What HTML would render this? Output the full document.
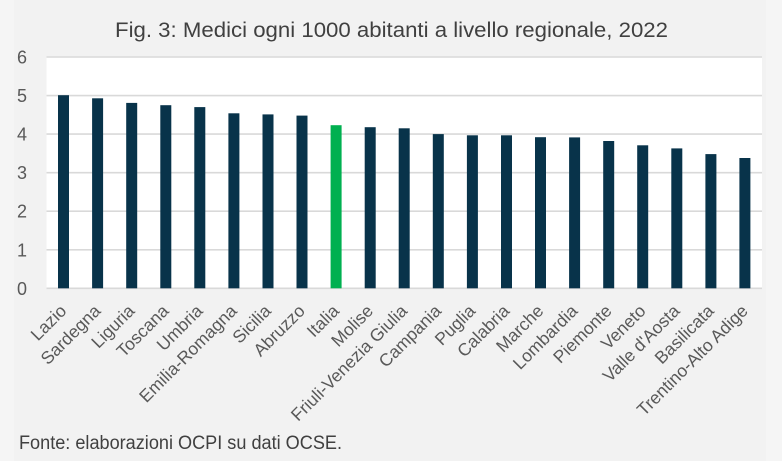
<!DOCTYPE html>
<html>
<head>
<meta charset="utf-8">
<style>
  html, body { margin: 0; padding: 0; }
  body { width: 782px; height: 461px; background: #f2f2f2; overflow: hidden; }
  svg { display: block; }
  text { font-family: "Liberation Sans", Arial, sans-serif; }
</style>
</head>
<body>
<svg width="782" height="461" viewBox="0 0 782 461" xmlns="http://www.w3.org/2000/svg">
  <rect x="0" y="0" width="782" height="461" fill="#f2f2f2"/>
  <rect x="766" y="0" width="16" height="461" fill="#f5f5f5"/>
  <rect x="0" y="0" width="14" height="461" fill="#f5f5f5"/>
  <!-- Title -->
  <text x="115" y="37" font-size="21.5" fill="#404040" textLength="553" lengthAdjust="spacingAndGlyphs">Fig. 3: Medici ogni 1000 abitanti a livello regionale, 2022</text>

  <!-- plot area -->
  <rect x="46.5" y="57" width="715.5" height="231.3" fill="#ffffff"/>

  <!-- gridlines -->
  <g stroke="#d9d9d9" stroke-width="1.6">
    <line x1="46.5" x2="762" y1="57" y2="57"/>
    <line x1="46.5" x2="762" y1="95.6" y2="95.6"/>
    <line x1="46.5" x2="762" y1="134.1" y2="134.1"/>
    <line x1="46.5" x2="762" y1="172.7" y2="172.7"/>
    <line x1="46.5" x2="762" y1="211.2" y2="211.2"/>
    <line x1="46.5" x2="762" y1="249.8" y2="249.8"/>
    <line x1="46.5" x2="762" y1="288.3" y2="288.3"/>
  </g>

  <!-- y labels -->
  <g font-size="18" fill="#595959" text-anchor="end">
    <text x="27" y="63.5">6</text>
    <text x="27" y="102.1">5</text>
    <text x="27" y="140.6">4</text>
    <text x="27" y="179.2">3</text>
    <text x="27" y="217.7">2</text>
    <text x="27" y="256.3">1</text>
    <text x="27" y="294.8">0</text>
  </g>

  <!-- bars -->
  <g fill="#08334a">
    <rect x="58.0" y="95.2" width="11" height="193.1"/>
    <rect x="92.1" y="98.3" width="11" height="190.0"/>
    <rect x="126.2" y="102.9" width="11" height="185.4"/>
    <rect x="160.3" y="105.2" width="11" height="183.1"/>
    <rect x="194.3" y="107.1" width="11" height="181.2"/>
    <rect x="228.4" y="113.3" width="11" height="175.0"/>
    <rect x="262.5" y="114.4" width="11" height="173.9"/>
    <rect x="296.5" y="115.6" width="11" height="172.7"/>
    <rect x="364.7" y="127.2" width="11" height="161.1"/>
    <rect x="398.7" y="128.3" width="11" height="160.0"/>
    <rect x="432.8" y="134.1" width="11" height="154.2"/>
    <rect x="466.9" y="135.3" width="11" height="153.0"/>
    <rect x="501.0" y="135.3" width="11" height="153.0"/>
    <rect x="535.0" y="137.2" width="11" height="151.1"/>
    <rect x="569.1" y="137.4" width="11" height="150.9"/>
    <rect x="603.2" y="141.0" width="11" height="147.3"/>
    <rect x="637.2" y="145.3" width="11" height="143.0"/>
    <rect x="671.3" y="148.4" width="11" height="139.9"/>
    <rect x="705.4" y="154.1" width="11" height="134.2"/>
    <rect x="739.4" y="158.0" width="11" height="130.3"/>
  </g>
  <rect x="330.6" y="125.2" width="11" height="163.1" fill="#00b050"/>

  <!-- x labels -->
  <g font-size="17.5" fill="#595959" text-anchor="end">
    <text transform="translate(67.5,312) rotate(-45)">Lazio</text>
    <text transform="translate(101.6,312) rotate(-45)">Sardegna</text>
    <text transform="translate(135.7,312) rotate(-45)">Liguria</text>
    <text transform="translate(169.8,312) rotate(-45)">Toscana</text>
    <text transform="translate(203.8,312) rotate(-45)">Umbria</text>
    <text transform="translate(237.9,312) rotate(-45)">Emilia-Romagna</text>
    <text transform="translate(272.0,312) rotate(-45)">Sicilia</text>
    <text transform="translate(306.0,312) rotate(-45)">Abruzzo</text>
    <text transform="translate(340.1,312) rotate(-45)">Italia</text>
    <text transform="translate(374.2,312) rotate(-45)">Molise</text>
    <text transform="translate(408.2,312) rotate(-45)">Friuli-Venezia Giulia</text>
    <text transform="translate(442.3,312) rotate(-45)">Campania</text>
    <text transform="translate(476.4,312) rotate(-45)">Puglia</text>
    <text transform="translate(510.5,312) rotate(-45)">Calabria</text>
    <text transform="translate(544.5,312) rotate(-45)">Marche</text>
    <text transform="translate(578.6,312) rotate(-45)">Lombardia</text>
    <text transform="translate(612.7,312) rotate(-45)">Piemonte</text>
    <text transform="translate(646.7,312) rotate(-45)">Veneto</text>
    <text transform="translate(680.8,312) rotate(-45)">Valle d'Aosta</text>
    <text transform="translate(714.9,312) rotate(-45)">Basilicata</text>
    <text transform="translate(748.9,312) rotate(-45)">Trentino-Alto Adige</text>
  </g>

  <!-- footer -->
  <text x="19" y="449" font-size="19" fill="#404040" textLength="323" lengthAdjust="spacingAndGlyphs">Fonte: elaborazioni OCPI su dati OCSE.</text>
</svg>
</body>
</html>
